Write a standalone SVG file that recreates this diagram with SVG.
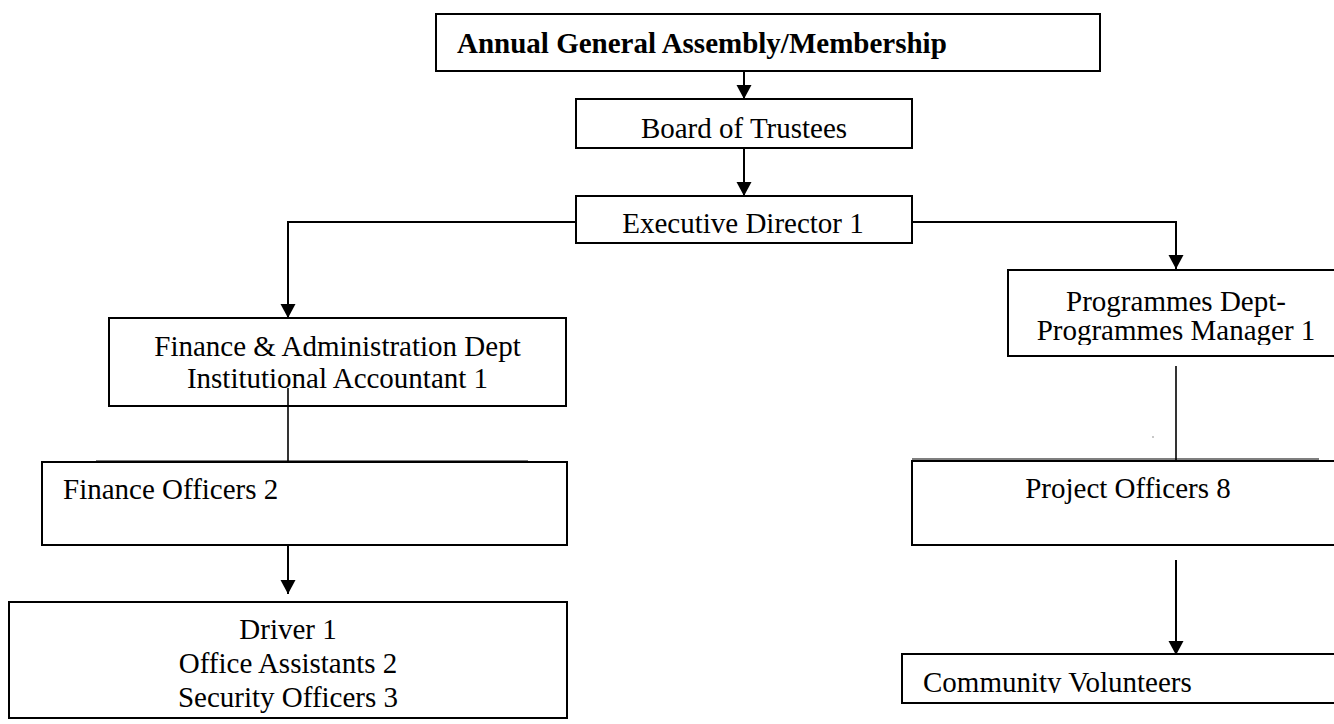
<svg xmlns="http://www.w3.org/2000/svg" width="1334" height="724" viewBox="0 0 1334 724">
<style>
  .box { fill: #ffffff; stroke: #000000; stroke-width: 2; }
  .t { font-family: "Liberation Serif", "Times New Roman", serif; font-size: 29px; fill: #000000; }
  .b { font-weight: bold; }
  .c { text-anchor: middle; }
  .conn { fill: none; stroke: #000000; stroke-width: 2; }
  .thin { fill: none; stroke: #000000; stroke-width: 1.6; }
</style>
<defs>
  <marker id="arrow" markerUnits="userSpaceOnUse" markerWidth="16" markerHeight="16" refX="14" refY="7.5" orient="auto">
    <path d="M0,0 L14,7.5 L0,15 Z" fill="#000000"/>
  </marker>
  <clipPath id="clipProg"><rect x="1008" y="269" width="326" height="76"/></clipPath>
  <clipPath id="clipCV"><rect x="902" y="654" width="432" height="39"/></clipPath>
</defs>
<rect width="1334" height="724" fill="#ffffff"/>

<g id="aga">
  <rect class="box" x="436" y="14" width="664" height="57" stroke-width="2.4"/>
  <text class="t b" x="457" y="53">Annual General Assembly/Membership</text>
</g>
<g id="board">
  <rect class="box" x="576" y="99" width="336" height="49"/>
  <text class="t c" x="744" y="138">Board of Trustees</text>
</g>
<g id="executive-director">
  <rect class="box" x="576" y="196" width="336" height="47"/>
  <text class="t c" x="743" y="233">Executive Director 1</text>
</g>
<g id="finance-admin">
  <rect class="box" x="109" y="318" width="457" height="88"/>
  <text class="t c" x="337.5" y="356">Finance &amp; Administration Dept</text>
  <text class="t c" x="337.5" y="388">Institutional Accountant 1</text>
</g>
<g id="finance-officers">
  <rect class="box" x="42" y="462" width="525" height="83"/>
  <line x1="96" y1="461" x2="528" y2="461" stroke="#000" stroke-width="1.2"/>
  <text class="t" x="63" y="499">Finance Officers 2</text>
</g>
<g id="driver">
  <rect class="box" x="9" y="602" width="558" height="116"/>
  <text class="t c" x="288" y="639">Driver 1</text>
  <text class="t c" x="288" y="673">Office Assistants 2</text>
  <text class="t c" x="288" y="707">Security Officers 3</text>
</g>
<g id="programmes">
  <rect class="box" x="1008" y="270" width="340" height="86"/>
  <g clip-path="url(#clipProg)">
    <text class="t c" x="1176" y="311">Programmes Dept-</text>
    <text class="t c" x="1176" y="340">Programmes Manager 1</text>
  </g>
</g>
<g id="project-officers">
  <rect class="box" x="912" y="461" width="440" height="84"/>
  <line x1="912" y1="459" x2="1319" y2="459" stroke="#000" stroke-width="1.2"/>
  <text class="t c" x="1128" y="498">Project Officers 8</text>
</g>
<g id="community-volunteers">
  <rect class="box" x="902" y="654" width="450" height="49"/>
  <g clip-path="url(#clipCV)">
    <text class="t" x="923" y="692">Community Volunteers</text>
  </g>
</g>

<g id="connectors">
  <line class="conn" x1="744" y1="71" x2="744" y2="99" marker-end="url(#arrow)"/>
  <line class="conn" x1="744" y1="148" x2="744" y2="196" marker-end="url(#arrow)"/>
  <polyline class="conn" points="576,222 288,222 288,318" marker-end="url(#arrow)"/>
  <polyline class="conn" points="912,222 1176,222 1176,269" marker-end="url(#arrow)"/>
  <line class="thin" x1="288" y1="388" x2="288" y2="462"/>
  <line class="conn" x1="288" y1="545" x2="288" y2="594" marker-end="url(#arrow)"/>
  <line class="thin" x1="1176" y1="366" x2="1176" y2="461"/>
  <line class="conn" x1="1176" y1="560" x2="1176" y2="655" marker-end="url(#arrow)"/>
  <circle cx="1153" cy="437" r="0.7" fill="#666666"/>
</g>
</svg>
